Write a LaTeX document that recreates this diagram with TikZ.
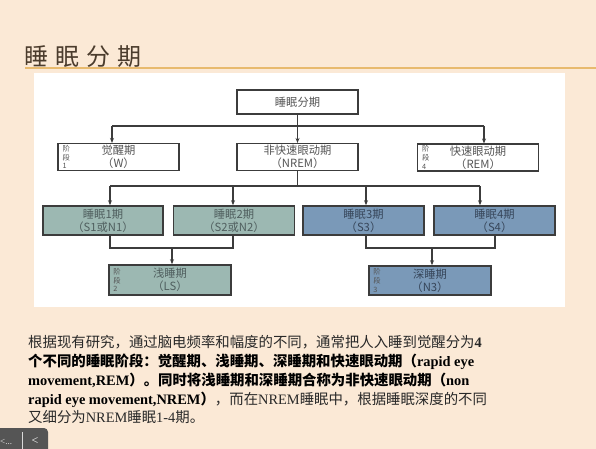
\documentclass[tikz,border=0pt]{standalone}
\usepackage{fontspec}
\setmainfont{Liberation Serif}
\newfontfamily\cjk{Noto Sans CJK SC}
\usetikzlibrary{arrows.meta}
\definecolor{bgc}{RGB}{251,233,214}
\definecolor{rulec}{RGB}{232,186,110}
\definecolor{titlec}{RGB}{75,60,45}
\definecolor{boxtext}{RGB}{85,85,85}
\definecolor{lightfill}{RGB}{156,184,178}
\definecolor{bluefill}{RGB}{122,153,184}
\definecolor{greentext}{RGB}{80,95,95}
\definecolor{bluetext}{RGB}{55,70,90}
\definecolor{edgec}{RGB}{60,60,60}
\definecolor{paratext}{RGB}{40,40,40}
\definecolor{toolbarc}{RGB}{85,85,85}
\newcommand{\cj}[1]{{\cjk #1}}
\begin{document}
\begin{tikzpicture}[x=1pt,y=-1pt,
  whitebox/.style={draw=edgec,line width=1.1pt,fill=white,minimum width=121pt,minimum height=27pt,
    align=center,font=\cjk\fontsize{11.3}{13}\selectfont,text=boxtext,inner sep=0pt},
  greenbox/.style={whitebox,fill=lightfill,line width=1.6pt,text=greentext},
  bluebox/.style={whitebox,fill=bluefill,line width=1.6pt,text=bluetext},
  stagelbl/.style={font=\cjk\fontsize{7.3}{8.8}\selectfont,align=left,text=boxtext,inner sep=0pt,anchor=west},
  conn/.style={draw=edgec,line width=1.1pt},
  arr/.style={conn,-{Stealth[length=5pt,width=4pt]}},
  paraline/.style={anchor=base west,inner sep=0pt,font=\fontsize{14.4}{18}\selectfont,text=paratext}
]
\useasboundingbox (0,0) rectangle (596,449);
\fill[bgc] (0,0) rectangle (596,449);
% title
\node[anchor=base west,inner sep=0pt,text=titlec,font=\cjk\fontsize{24}{26}\selectfont] (title) at (24,66)
  {睡\hspace{7pt}眠\hspace{7pt}分\hspace{7pt}期};
\draw[rulec,line width=2pt] (25,68.5) -- (596,68.5);
% panel
\fill[white] (34,73) rectangle (565,307);

% nodes
\node[whitebox,minimum height=24pt] (top) at (297.5,102) {睡眠分期};
\node[whitebox] (W) at (118.5,157) {觉醒期\\（W）};
\node[whitebox] (NREM) at (297.5,157) {非快速眼动期\\（NREM）};
\node[whitebox] (REM) at (478,157.5) {快速眼动期\\（REM）};
\node[greenbox,minimum height=29pt,minimum width=120pt] (S1) at (103,220.5) {睡眠1期\\（S1或N1）};
\node[greenbox,minimum height=29pt] (S2) at (234,220.5) {睡眠2期\\（S2或N2）};
\node[bluebox,minimum height=29pt] (S3) at (363.5,220.5) {睡眠3期\\（S3）};
\node[bluebox,minimum height=29pt] (S4) at (494.5,220.5) {睡眠4期\\（S4）};
\node[greenbox,minimum height=30pt,minimum width=122pt] (LS) at (170,280) {浅睡期\\（LS）};
\node[bluebox,minimum height=29pt,minimum width=122pt] (N3) at (430,280.5) {深睡期\\（N3）};

% stage labels
\node[stagelbl] (sW) at ([xshift=5pt]W.west) {阶\\段\\1};
\node[stagelbl] (sREM) at ([xshift=5pt]REM.west) {阶\\段\\4};
\node[stagelbl] (sLS) at ([xshift=5pt]LS.west) {阶\\段\\2};
\node[stagelbl] (sN3) at ([xshift=5pt]N3.west) {阶\\段\\3};

% level 1 connectors
\draw[arr] (top.south) -- (NREM.north);
\coordinate (b1) at (112,126);
\coordinate (b2) at (484,126);
\draw[conn] (b1) -- (b2);
\draw[arr] (b1) -- (b1 |- W.north);
\draw[arr] (b2) -- (b2 |- REM.north);

% level 2 connectors
\coordinate (c0) at (297.5,186);
\coordinate (c1) at (110,186);
\coordinate (c2) at (233,186);
\coordinate (c3) at (366,186);
\coordinate (c4) at (480,186);
\draw[conn] (NREM.south) -- (c0);
\draw[conn] (c1) -- (c4);
\draw[arr] (c1) -- (c1 |- S1.north);
\draw[arr] (c2) -- (c2 |- S2.north);
\draw[arr] (c3) -- (c3 |- S3.north);
\draw[arr] (c4) -- (c4 |- S4.north);

% level 3 connectors
\coordinate (d1) at (110,248);
\coordinate (d2) at (233,248);
\coordinate (dm) at (172,248);
\draw[conn] (d1 |- S1.south) -- (d1) -- (d2) -- (d2 |- S2.south);
\draw[arr] (dm) -- (dm |- LS.north);
\coordinate (e1) at (366,248);
\coordinate (e2) at (495,248);
\coordinate (em) at (432,248);
\draw[conn] (e1 |- S3.south) -- (e1) -- (e2) -- (e2 |- S4.south);
\draw[arr] (em) -- (em |- N3.north);

% paragraph
\node[paraline] (p1) at (28,347) {\cj{根据现有研究，通过脑电频率和幅度的不同，通常把人入睡到觉醒分为}\textbf{4}};
\node[paraline,text=black] (p2) at (28,366) {\bfseries\cj{个不同的睡眠阶段：觉醒期、浅睡期、深睡期和快速眼动期（}rapid eye};
\node[paraline,text=black] (p3) at (28,385) {\bfseries movement,REM\cj{）。同时将浅睡期和深睡期合称为非快速眼动期（}non};
\node[paraline] (p4) at (28,404) {{\bfseries\color{black}rapid eye movement,NREM\cj{）}}\cj{，而在}NREM\cj{睡眠中，根据睡眠深度的不同}};
\node[paraline] (p5) at (28,422) {\cj{又细分为}NREM\cj{睡眠}1-4\cj{期。}};

% viewer toolbar
\fill[toolbarc,rounded corners=4pt] (-5,428) rectangle (48,455);
\draw[white!70!gray,line width=0.6pt] (22,432) -- (22,449);
\node[anchor=west,inner sep=0pt,text=white!85!gray,font=\fontsize{9}{10}\selectfont] (tb1) at (0,442) {<...};
\node[anchor=center,inner sep=0pt,text=white,font=\fontsize{12}{12}\selectfont] (tb2) at (35,441) {<};
\end{tikzpicture}
\end{document}
